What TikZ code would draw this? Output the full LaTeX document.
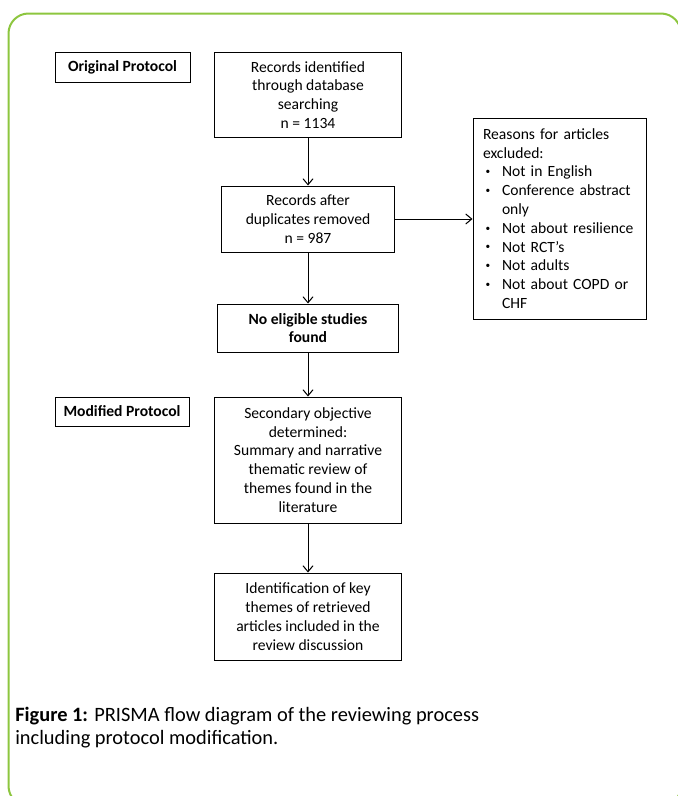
\documentclass[tikz,border=0pt]{standalone}
\usepackage{fontspec}
\setmainfont{Carlito}
\usepackage{tikz}
\usetikzlibrary{arrows.meta}
\usepackage{color}
\definecolor{framegreen}{RGB}{141,198,63}
\newcommand{\boxfont}{\fontsize{11.7}{14.1}\selectfont}
\newcommand{\reason}[1]{\makebox[14.25pt][l]{\hspace{2pt}\raisebox{0.3ex}{\fontsize{7}{7}\selectfont\textbullet}}#1}
\tikzset{
	box/.style={draw, line width=0.75pt, align=center, font=\boxfont, inner sep=0pt},
	flow/.style={-{Straight Barb[length=4.5pt,width=7.5pt]}, line width=0.75pt}
}

\begin{document}
\begin{tikzpicture}[x=0.75pt,y=-0.75pt]
		\useasboundingbox (0,0) rectangle (678,796);
		\clip (0,0) rectangle (678,796);
		\draw[framegreen, line width=1.5pt, rounded corners=15pt] (8.5,13.5) rectangle (681,806); % frame
		% protocol labels
		\node[box, font=\boxfont\bfseries, minimum width=101.25pt, minimum height=22.5pt] (orig) at (122.5,67) {Original Protocol};
		\node[box, font=\boxfont\bfseries, minimum width=100.5pt, minimum height=21.75pt] (modif) at (122,411.5) {Modified Protocol};
		% main column
		\node[box, minimum width=140.25pt, minimum height=63.75pt] (ident) at (308,95) {Records identified\\through database\\searching\\n = 1134};
		\node[box, minimum width=129.75pt, minimum height=49.5pt] (after) at (308,219) {Records after\\duplicates removed\\n = 987};
		\node[box, font=\boxfont\bfseries, minimum width=135.75pt, minimum height=36pt] (noelig) at (308,328) {No eligible studies\\found};
		\node[box, minimum width=140.25pt, minimum height=94.5pt] (second) at (308,460) {Secondary objective\\determined:\\Summary and narrative\\thematic review of\\themes found in the\\literature};
		\node[box, minimum width=140.25pt, minimum height=65.25pt] (keythemes) at (308,616.5) {Identification of key\\themes of retrieved\\articles included in the\\review discussion};
		% excluded reasons
		\node[box, align=left, text width=114.75pt, inner xsep=7.5pt, minimum height=150.75pt] (reasons) at (559.5,218.5) {Reasons for articles\\excluded:\\\reason{Not in English}\\\reason{Conference abstract}\\\hspace*{14.25pt}only\\\reason{Not about resilience}\\\reason{Not RCT’s}\\\reason{Not adults}\\\reason{Not about COPD or}\\\hspace*{14.25pt}CHF};
		% arrows
		\draw[flow] (ident) -- (after);
		\draw[flow] (after) -- (noelig);
		\draw[flow] (noelig) -- (second);
		\draw[flow] (second) -- (keythemes);
		\draw[flow] (after.east) -- (after.east -| reasons.west);
		% caption
		\node[anchor=base west, align=left, inner sep=0pt, font=\fontsize{15.3}{17.25}\selectfont] (caption) at (15,744) {\textbf{Figure 1:} PRISMA flow diagram of the reviewing process\\including protocol modification.};
\end{tikzpicture}
\end{document}
